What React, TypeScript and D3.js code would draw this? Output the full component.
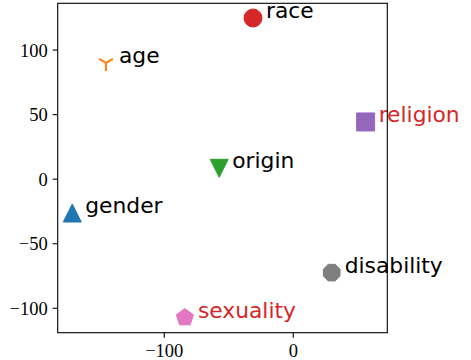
import React from "react";
import * as d3 from "d3";

const categories = ["race", "age", "religion", "origin", "gender", "disability", "sexuality"];
const xValues = [-31.2, -145.2, 56.1, -57.4, -171.3, 29.8, -84.0];
const yValues = [124.8, 90.0, 44.3, 8.4, -26.2, -72.4, -107.2];
const markers = ["circle", "tri_down", "square", "triangle_down", "triangle_up", "octagon", "pentagon"];
const colors = ["#d62728", "#ff7f0e", "#9467bd", "#2ca02c", "#1f77b4", "#7f7f7f", "#e377c2"];
const labelColors = ["#000000", "#000000", "#d62728", "#000000", "#000000", "#000000", "#d62728"];
const xTicks = [-100, 0];
const yTicks = [100, 50, 0, -50, -100];
const xDomain = [-182.6, 72.9];
const yDomain = [-118.9, 136.2];

const W = 471;
const H = 360;
const L = 57.7, R = 387.3, T = 3.3, B = 332.7;
const MS = 18;

function polygon(n: number, r: number, rot: number) {
  const pts: [number, number][] = [];
  for (let i = 0; i < n; i++) {
    const a = rot + (2 * Math.PI * i) / n;
    pts.push([r * Math.cos(a), -r * Math.sin(a)]);
  }
  return "M" + pts.map((p) => p[0].toFixed(2) + "," + p[1].toFixed(2)).join("L") + "Z";
}

function markerPath(kind: string, s: number) {
  const h = s / 2;
  switch (kind) {
    case "circle":
      return `M${h},0A${h},${h} 0 1,1 ${-h},0A${h},${h} 0 1,1 ${h},0Z`;
    case "square":
      return `M${-h},${-h}L${h},${-h}L${h},${h}L${-h},${h}Z`;
    case "triangle_up":
      return `M0,${-h}L${-h},${h}L${h},${h}Z`;
    case "triangle_down":
      return `M0,${h}L${-h},${-h}L${h},${-h}Z`;
    case "pentagon":
      return polygon(5, h, Math.PI / 2);
    case "octagon":
      return polygon(8, h, Math.PI / 8);
    case "tri_down":
      return `M0,0L0,${h}M0,0L${-0.866 * h},${-0.5 * h}M0,0L${0.866 * h},${-0.5 * h}`;
  }
  return "";
}

export default function App() {
  const x = d3.scaleLinear().domain(xDomain).range([L, R]);
  const y = d3.scaleLinear().domain(yDomain).range([B, T]);
  const fmt = (v: number) => (v < 0 ? "\u2212" + Math.abs(v) : String(v));
  const tickFont = "'Liberation Serif', 'DejaVu Serif', serif";
  const labelFont = "'DejaVu Sans', sans-serif";

  return (
    <div style={{ position: "fixed", left: 0, top: 0 }}>
      <svg width={W} height={H} viewBox={`0 0 ${W} ${H}`} style={{ display: "block", background: "#fff" }}>
        <rect x={0} y={0} width={W} height={H} fill="#fff" />
        {categories.map((c, i) => {
          const cx = x(xValues[i]);
          const cy = y(yValues[i]);
          const line = markers[i] === "tri_down";
          return (
            <g key={c}>
              <path
                d={markerPath(markers[i], line ? 16 : MS)}
                transform={`translate(${cx},${cy})`}
                fill={line ? "none" : colors[i]}
                stroke={colors[i]}
                strokeWidth={line ? 2 : 1}
                strokeLinejoin="round"
              />
            </g>
          );
        })}
        {categories.map((c, i) => (
          <text
            key={c + "-l"}
            x={x(xValues[i]) + 13}
            y={y(yValues[i])}
            fill={labelColors[i]}
            fontFamily={labelFont}
            fontSize={21.8}
          >
            {c}
          </text>
        ))}
        <rect x={L} y={T} width={R - L} height={B - T} fill="none" stroke="#000" strokeWidth={1.1} />
        {xTicks.map((t) => (
          <g key={"x" + t}>
            <line x1={x(t)} x2={x(t)} y1={B} y2={B + 5} stroke="#000" strokeWidth={1.1} />
            <text x={x(t)} y={B + 24} textAnchor="middle" fontFamily={tickFont} fontSize={18.5} fill="#000">
              {fmt(t)}
            </text>
          </g>
        ))}
        {yTicks.map((t) => (
          <g key={"y" + t}>
            <line x1={L - 5} x2={L} y1={y(t)} y2={y(t)} stroke="#000" strokeWidth={1.1} />
            <text x={L - 10} y={y(t)} dy="0.35em" textAnchor="end" fontFamily={tickFont} fontSize={18.5} fill="#000">
              {fmt(t)}
            </text>
          </g>
        ))}
      </svg>
    </div>
  );
}
